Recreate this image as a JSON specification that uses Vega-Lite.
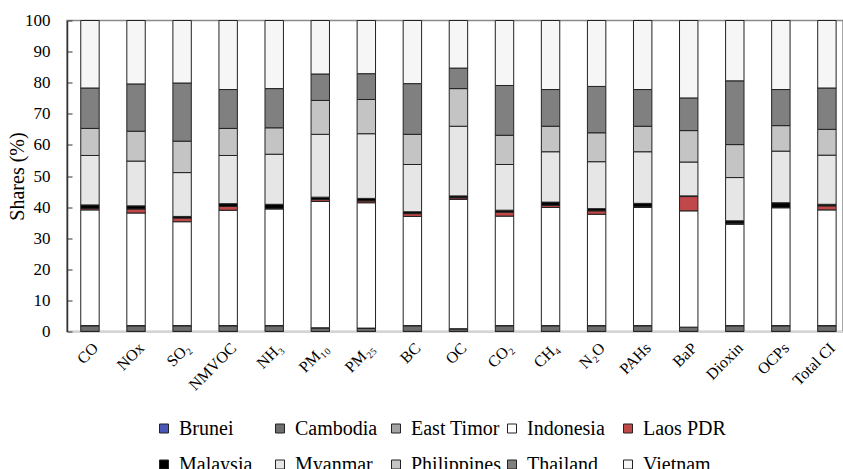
{
  "$schema": "https://vega.github.io/schema/vega-lite/v6.json",
  "width": 776,
  "height": 311,
  "autosize": {"type": "none"},
  "padding": {"left": 67, "top": 20.5, "right": 0, "bottom": 137.5},
  "background": "white",
  "config": {
    "view": {"stroke": "#8a8a8a", "strokeWidth": 1.5},
    "font": "Liberation Serif",
    "axis": {"labelFont": "Liberation Serif", "titleFont": "Liberation Serif", "labelColor": "#000", "titleColor": "#000", "grid": false},
    "legend": {"labelFont": "Liberation Serif"}
  },
  "data": {"values": [
    {"pollutant":"CO","country":"Brunei","share":0.05},{"pollutant":"CO","country":"Cambodia","share":1.8},{"pollutant":"CO","country":"East Timor","share":0.05},{"pollutant":"CO","country":"Indonesia","share":37.2},{"pollutant":"CO","country":"Laos PDR","share":0.5},{"pollutant":"CO","country":"Malaysia","share":1.1},{"pollutant":"CO","country":"Myanmar","share":15.9},{"pollutant":"CO","country":"Philippines","share":8.7},{"pollutant":"CO","country":"Thailand","share":13.0},{"pollutant":"CO","country":"Vietnam","share":21.7},
    {"pollutant":"NOx","country":"Brunei","share":0.05},{"pollutant":"NOx","country":"Cambodia","share":1.8},{"pollutant":"NOx","country":"East Timor","share":0.05},{"pollutant":"NOx","country":"Indonesia","share":36.2},{"pollutant":"NOx","country":"Laos PDR","share":1.3},{"pollutant":"NOx","country":"Malaysia","share":1.0},{"pollutant":"NOx","country":"Myanmar","share":14.4},{"pollutant":"NOx","country":"Philippines","share":9.6},{"pollutant":"NOx","country":"Thailand","share":15.2},{"pollutant":"NOx","country":"Vietnam","share":20.4},
    {"pollutant":"SO₂","country":"Brunei","share":0.05},{"pollutant":"SO₂","country":"Cambodia","share":1.8},{"pollutant":"SO₂","country":"East Timor","share":0.05},{"pollutant":"SO₂","country":"Indonesia","share":33.4},{"pollutant":"SO₂","country":"Laos PDR","share":1.2},{"pollutant":"SO₂","country":"Malaysia","share":0.5},{"pollutant":"SO₂","country":"Myanmar","share":14.1},{"pollutant":"SO₂","country":"Philippines","share":10.1},{"pollutant":"SO₂","country":"Thailand","share":18.7},{"pollutant":"SO₂","country":"Vietnam","share":20.1},
    {"pollutant":"NMVOC","country":"Brunei","share":0.05},{"pollutant":"NMVOC","country":"Cambodia","share":1.8},{"pollutant":"NMVOC","country":"East Timor","share":0.05},{"pollutant":"NMVOC","country":"Indonesia","share":37.1},{"pollutant":"NMVOC","country":"Laos PDR","share":1.2},{"pollutant":"NMVOC","country":"Malaysia","share":0.9},{"pollutant":"NMVOC","country":"Myanmar","share":15.5},{"pollutant":"NMVOC","country":"Philippines","share":8.7},{"pollutant":"NMVOC","country":"Thailand","share":12.5},{"pollutant":"NMVOC","country":"Vietnam","share":22.2},
    {"pollutant":"NH₃","country":"Brunei","share":0.05},{"pollutant":"NH₃","country":"Cambodia","share":1.8},{"pollutant":"NH₃","country":"East Timor","share":0.05},{"pollutant":"NH₃","country":"Indonesia","share":37.5},{"pollutant":"NH₃","country":"Laos PDR","share":0.2},{"pollutant":"NH₃","country":"Malaysia","share":1.3},{"pollutant":"NH₃","country":"Myanmar","share":16.1},{"pollutant":"NH₃","country":"Philippines","share":8.5},{"pollutant":"NH₃","country":"Thailand","share":12.6},{"pollutant":"NH₃","country":"Vietnam","share":21.9},
    {"pollutant":"PM₁₀","country":"Brunei","share":0.05},{"pollutant":"PM₁₀","country":"Cambodia","share":1.1},{"pollutant":"PM₁₀","country":"East Timor","share":0.05},{"pollutant":"PM₁₀","country":"Indonesia","share":40.6},{"pollutant":"PM₁₀","country":"Laos PDR","share":0.6},{"pollutant":"PM₁₀","country":"Malaysia","share":0.8},{"pollutant":"PM₁₀","country":"Myanmar","share":20.2},{"pollutant":"PM₁₀","country":"Philippines","share":10.9},{"pollutant":"PM₁₀","country":"Thailand","share":8.5},{"pollutant":"PM₁₀","country":"Vietnam","share":17.2},
    {"pollutant":"PM₂₅","country":"Brunei","share":0.05},{"pollutant":"PM₂₅","country":"Cambodia","share":1.0},{"pollutant":"PM₂₅","country":"East Timor","share":0.05},{"pollutant":"PM₂₅","country":"Indonesia","share":40.3},{"pollutant":"PM₂₅","country":"Laos PDR","share":0.6},{"pollutant":"PM₂₅","country":"Malaysia","share":0.8},{"pollutant":"PM₂₅","country":"Myanmar","share":20.8},{"pollutant":"PM₂₅","country":"Philippines","share":11.0},{"pollutant":"PM₂₅","country":"Thailand","share":8.3},{"pollutant":"PM₂₅","country":"Vietnam","share":17.1},
    {"pollutant":"BC","country":"Brunei","share":0.05},{"pollutant":"BC","country":"Cambodia","share":1.8},{"pollutant":"BC","country":"East Timor","share":0.05},{"pollutant":"BC","country":"Indonesia","share":35.1},{"pollutant":"BC","country":"Laos PDR","share":0.9},{"pollutant":"BC","country":"Malaysia","share":0.6},{"pollutant":"BC","country":"Myanmar","share":15.2},{"pollutant":"BC","country":"Philippines","share":9.7},{"pollutant":"BC","country":"Thailand","share":16.3},{"pollutant":"BC","country":"Vietnam","share":20.3},
    {"pollutant":"OC","country":"Brunei","share":0.05},{"pollutant":"OC","country":"Cambodia","share":0.8},{"pollutant":"OC","country":"East Timor","share":0.05},{"pollutant":"OC","country":"Indonesia","share":41.6},{"pollutant":"OC","country":"Laos PDR","share":0.5},{"pollutant":"OC","country":"Malaysia","share":0.6},{"pollutant":"OC","country":"Myanmar","share":22.4},{"pollutant":"OC","country":"Philippines","share":12.1},{"pollutant":"OC","country":"Thailand","share":6.6},{"pollutant":"OC","country":"Vietnam","share":15.3},
    {"pollutant":"CO₂","country":"Brunei","share":0.05},{"pollutant":"CO₂","country":"Cambodia","share":1.8},{"pollutant":"CO₂","country":"East Timor","share":0.05},{"pollutant":"CO₂","country":"Indonesia","share":35.2},{"pollutant":"CO₂","country":"Laos PDR","share":1.3},{"pollutant":"CO₂","country":"Malaysia","share":0.6},{"pollutant":"CO₂","country":"Myanmar","share":14.7},{"pollutant":"CO₂","country":"Philippines","share":9.4},{"pollutant":"CO₂","country":"Thailand","share":16.0},{"pollutant":"CO₂","country":"Vietnam","share":20.9},
    {"pollutant":"CH₄","country":"Brunei","share":0.05},{"pollutant":"CH₄","country":"Cambodia","share":1.8},{"pollutant":"CH₄","country":"East Timor","share":0.05},{"pollutant":"CH₄","country":"Indonesia","share":38.0},{"pollutant":"CH₄","country":"Laos PDR","share":0.7},{"pollutant":"CH₄","country":"Malaysia","share":1.0},{"pollutant":"CH₄","country":"Myanmar","share":16.2},{"pollutant":"CH₄","country":"Philippines","share":8.2},{"pollutant":"CH₄","country":"Thailand","share":11.8},{"pollutant":"CH₄","country":"Vietnam","share":22.2},
    {"pollutant":"N₂O","country":"Brunei","share":0.05},{"pollutant":"N₂O","country":"Cambodia","share":1.8},{"pollutant":"N₂O","country":"East Timor","share":0.05},{"pollutant":"N₂O","country":"Indonesia","share":35.8},{"pollutant":"N₂O","country":"Laos PDR","share":1.1},{"pollutant":"N₂O","country":"Malaysia","share":0.7},{"pollutant":"N₂O","country":"Myanmar","share":15.1},{"pollutant":"N₂O","country":"Philippines","share":9.3},{"pollutant":"N₂O","country":"Thailand","share":14.9},{"pollutant":"N₂O","country":"Vietnam","share":21.2},
    {"pollutant":"PAHs","country":"Brunei","share":0.05},{"pollutant":"PAHs","country":"Cambodia","share":1.8},{"pollutant":"PAHs","country":"East Timor","share":0.05},{"pollutant":"PAHs","country":"Indonesia","share":38.0},{"pollutant":"PAHs","country":"Laos PDR","share":0.2},{"pollutant":"PAHs","country":"Malaysia","share":1.1},{"pollutant":"PAHs","country":"Myanmar","share":16.6},{"pollutant":"PAHs","country":"Philippines","share":8.2},{"pollutant":"PAHs","country":"Thailand","share":11.8},{"pollutant":"PAHs","country":"Vietnam","share":22.2},
    {"pollutant":"BaP","country":"Brunei","share":0.05},{"pollutant":"BaP","country":"Cambodia","share":1.3},{"pollutant":"BaP","country":"East Timor","share":0.05},{"pollutant":"BaP","country":"Indonesia","share":37.4},{"pollutant":"BaP","country":"Laos PDR","share":4.6},{"pollutant":"BaP","country":"Malaysia","share":0.2},{"pollutant":"BaP","country":"Myanmar","share":10.9},{"pollutant":"BaP","country":"Philippines","share":10.1},{"pollutant":"BaP","country":"Thailand","share":10.5},{"pollutant":"BaP","country":"Vietnam","share":24.9},
    {"pollutant":"Dioxin","country":"Brunei","share":0.05},{"pollutant":"Dioxin","country":"Cambodia","share":1.8},{"pollutant":"Dioxin","country":"East Timor","share":0.05},{"pollutant":"Dioxin","country":"Indonesia","share":32.6},{"pollutant":"Dioxin","country":"Laos PDR","share":0.3},{"pollutant":"Dioxin","country":"Malaysia","share":0.8},{"pollutant":"Dioxin","country":"Myanmar","share":13.9},{"pollutant":"Dioxin","country":"Philippines","share":10.6},{"pollutant":"Dioxin","country":"Thailand","share":20.5},{"pollutant":"Dioxin","country":"Vietnam","share":19.4},
    {"pollutant":"OCPs","country":"Brunei","share":0.05},{"pollutant":"OCPs","country":"Cambodia","share":1.8},{"pollutant":"OCPs","country":"East Timor","share":0.05},{"pollutant":"OCPs","country":"Indonesia","share":37.9},{"pollutant":"OCPs","country":"Laos PDR","share":0.05},{"pollutant":"OCPs","country":"Malaysia","share":1.55},{"pollutant":"OCPs","country":"Myanmar","share":16.6},{"pollutant":"OCPs","country":"Philippines","share":8.2},{"pollutant":"OCPs","country":"Thailand","share":11.6},{"pollutant":"OCPs","country":"Vietnam","share":22.2},
    {"pollutant":"Total CI","country":"Brunei","share":0.05},{"pollutant":"Total CI","country":"Cambodia","share":1.8},{"pollutant":"Total CI","country":"East Timor","share":0.05},{"pollutant":"Total CI","country":"Indonesia","share":37.2},{"pollutant":"Total CI","country":"Laos PDR","share":1.3},{"pollutant":"Total CI","country":"Malaysia","share":0.5},{"pollutant":"Total CI","country":"Myanmar","share":15.8},{"pollutant":"Total CI","country":"Philippines","share":8.3},{"pollutant":"Total CI","country":"Thailand","share":13.3},{"pollutant":"Total CI","country":"Vietnam","share":21.7}
  ]},
  "mark": {"type": "bar", "stroke": "#222", "strokeWidth": 1},
  "encoding": {
    "x": {
      "field": "pollutant", "type": "nominal", "sort": null,
      "scale": {"paddingInner": 0.6, "paddingOuter": 0.224, "align": 0.667},
      "axis": {"title": null, "labelAngle": -45, "labelFont": "Liberation Serif", "labelFontSize": 16, "labelPadding": 8, "ticks": false, "domainColor": "#d4d4d4", "domainWidth": 2}
    },
    "y": {
      "field": "share", "type": "quantitative", "stack": "zero",
      "scale": {"domain": [0, 100], "nice": false},
      "axis": {"title": "Shares (%)", "titleFont": "Liberation Serif", "titleFontSize": 20, "titleFontWeight": "normal", "titlePadding": -3, "values": [0,10,20,30,40,50,60,70,80,90,100], "labelOverlap": false, "labelFont": "Liberation Serif", "labelFontSize": 17, "labelPadding": 22, "tickSize": -5, "tickColor": "#333", "domainColor": "#333", "domainWidth": 1.5}
    },
    "order": {"field": "country", "sort": "ascending"},
    "color": {
      "field": "country", "type": "nominal",
      "scale": {
        "domain": ["Brunei","Cambodia","East Timor","Indonesia","Laos PDR","Malaysia","Myanmar","Philippines","Thailand","Vietnam"],
        "range": ["#4a56b8","#6e6e6e","#a3a3a3","#ffffff","#c04848","#000000","#e6e6e6","#c4c4c4","#808080","#f6f6f6"]
      },
      "legend": {
        "title": null, "orient": "none", "legendX": 87, "legendY": 398,
        "direction": "horizontal", "columns": 5, "gridAlign": "all",
        "columnPadding": -12, "rowPadding": 16, "padding": 0,
        "symbolType": "square", "symbolSize": 81, "symbolStrokeColor": "#222", "symbolStrokeWidth": 1, "symbolOpacity": 1,
        "labelFont": "Liberation Serif", "labelFontSize": 20, "labelOffset": 5, "labelColor": "#000", "labelLimit": 200
      }
    }
  }
}
